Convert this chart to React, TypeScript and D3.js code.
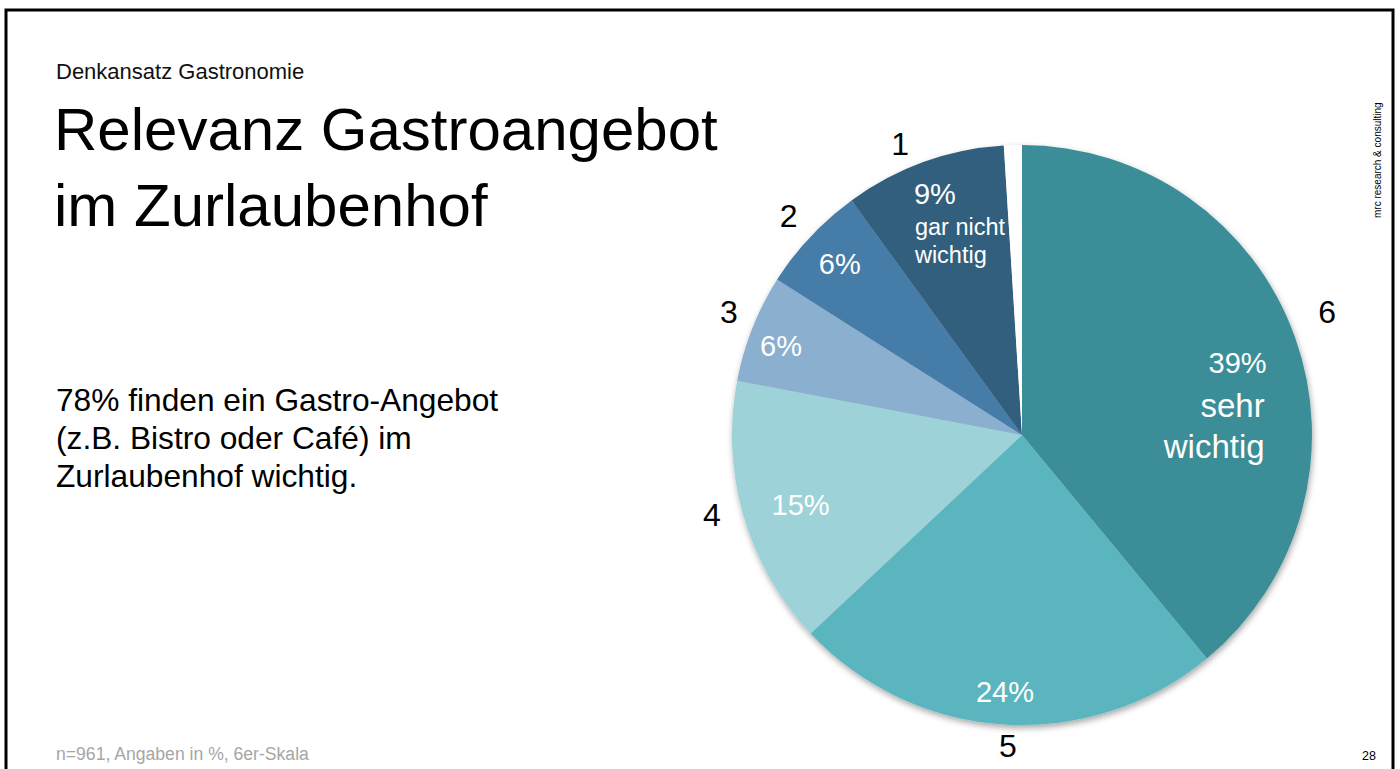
import React from "react";
import * as d3 from "d3";

// ---- Data ----
const categories = ["6", "5", "4", "3", "2", "1", ""];
const values = [39, 24, 15, 6, 6, 9, 1];
const percentLabels = ["39%", "24%", "15%", "6%", "6%", "9%", ""];
const extraLines = [["sehr", "wichtig"], [], [], [], [], ["gar nicht", "wichtig"], []];

// ---- Styles ----
const colors = ["#3B8E97", "#5AB5BF", "#9DD2D8", "#8AAFCF", "#447BA8", "#335F7E", "#FFFFFF"];
const FONT = "'Liberation Sans', Arial, sans-serif";

const W = 1400;
const H = 769;
const CX = 1022;
const CY = 435;
const R = 290;

type Pt = [number, number];
const polar = (a: number, r: number): Pt => [CX + r * Math.sin(a), CY - r * Math.cos(a)];
const deg = (d: number) => (d * Math.PI) / 180;

// label layout (radius, angle nudge in degrees)
const outerR = [329, 311, 320, 318, 320, 315.5, 0];
const outerNudge = [-2.2, -1.0, 1.9, 1.2, 0, -2.9, 0];
const innerR = [0, 257.6, 232, 257, 250, 0, 0];
const innerNudge = [0, 0.2, -1.2, -1.3, 0, 0, 0];

export default function App() {
  React.useEffect(() => {
    document.body.style.margin = "0";
    document.body.style.overflow = "hidden";
  }, []);

  const pie = d3
    .pie<number>()
    .sort(null)
    .value((d) => d)
    .startAngle(0)
    .endAngle(2 * Math.PI);
  const arcs = pie(values);
  const arcGen = d3.arc<d3.PieArcDatum<number>>().innerRadius(0).outerRadius(R);

  return (
    <svg
      width={W}
      height={H}
      style={{ position: "absolute", left: 0, top: 0, display: "block", background: "#fff" }}
      fontFamily={FONT}
    >
      <defs>
        <filter id="shadow" x="-20%" y="-20%" width="140%" height="140%">
          <feDropShadow dx="1" dy="3" stdDeviation="3" floodColor="#000" floodOpacity="0.35" />
        </filter>
      </defs>
      <rect x={0} y={0} width={W} height={H} fill="#fff" />
      <rect x={6} y={10} width={1387} height={820} fill="none" stroke="#000" strokeWidth={3} />

      <text x={56} y={79} fontSize={22} fill="#111">Denkansatz Gastronomie</text>
      <text x={54} y={150} fontSize={60} fill="#000">Relevanz Gastroangebot</text>
      <text x={54} y={226} fontSize={60} fill="#000">im Zurlaubenhof</text>

      <text fontSize={31.7} fill="#000">
        <tspan x={56} y={411}>78% finden ein Gastro-Angebot</tspan>
        <tspan x={56} y={449}>(z.B. Bistro oder Café) im</tspan>
        <tspan x={56} y={487}>Zurlaubenhof wichtig.</tspan>
      </text>

      <text x={56} y={760} fontSize={17.6} fill="#A6A6A6">n=961, Angaben in %, 6er-Skala</text>
      <text x={1376} y={760} fontSize={12.5} fill="#000" textAnchor="end">28</text>
      <text transform="translate(1381,218) rotate(-90)" fontSize={10} fill="#000">
        mrc research &amp; consulting
      </text>

      <g filter="url(#shadow)">
        <g transform={`translate(${CX},${CY})`}>
          {arcs.map((a, i) => (
            <path key={i} d={arcGen(a) || ""} fill={colors[i]} />
          ))}
        </g>
      </g>

      {arcs.map((a, i) => {
        if (!categories[i]) return null;
        const mid = (a.startAngle + a.endAngle) / 2 + deg(outerNudge[i]);
        const [ox, oy] = polar(mid, outerR[i]);
        return (
          <text key={"o" + i} x={ox} y={oy + 11.5} fontSize={32} textAnchor="middle" fill="#000">
            {categories[i]}
          </text>
        );
      })}

      {arcs.map((a, i) => {
        if (!percentLabels[i] || extraLines[i].length) return null;
        const mid = (a.startAngle + a.endAngle) / 2 + deg(innerNudge[i]);
        const [ix, iy] = polar(mid, innerR[i]);
        return (
          <text key={"i" + i} x={ix} y={iy + 10.4} fontSize={29} textAnchor="middle" fill="#fff">
            {percentLabels[i]}
          </text>
        );
      })}

      {/* slice 6: right aligned block */}
      {(() => {
        const a = arcs[0];
        const mid = (a.startAngle + a.endAngle) / 2;
        const [x, y] = polar(mid, 260);
        const ax = x;
        const by = y + 26;
        return (
          <text textAnchor="end" fill="#fff">
            <tspan x={ax} y={by} fontSize={29}>{percentLabels[0]}</tspan>
            <tspan x={ax - 2} y={by + 44} fontSize={33}>{extraLines[0][0]}</tspan>
            <tspan x={ax - 2} y={by + 85} fontSize={33}>{extraLines[0][1]}</tspan>
          </text>
        );
      })()}

      {/* slice 1: left aligned block */}
      {(() => {
        const a = arcs[5];
        const mid = (a.startAngle + a.endAngle) / 2;
        const [x, y] = polar(mid, 260);
        const ax = x - 20;
        const by = y + 14;
        return (
          <text textAnchor="start" fill="#fff">
            <tspan x={ax} y={by} fontSize={29}>{percentLabels[5]}</tspan>
            <tspan x={ax + 1} y={by + 31} fontSize={23.5}>{extraLines[5][0]}</tspan>
            <tspan x={ax + 1} y={by + 59} fontSize={23.5}>{extraLines[5][1]}</tspan>
          </text>
        );
      })()}
    </svg>
  );
}
